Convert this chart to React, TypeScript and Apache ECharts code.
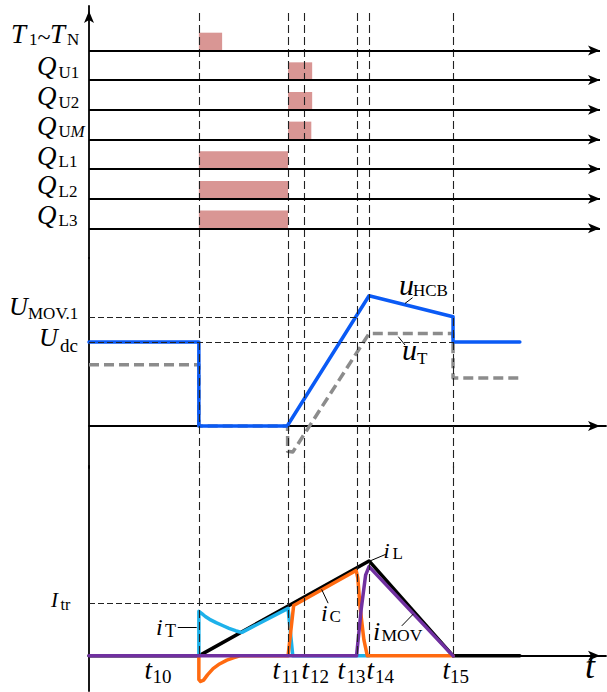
import React, { useEffect, useRef } from 'react';
import * as echarts from 'echarts';

// switching instants t10 ... t15 on the time axis
const tInstants = [25.5, 46.2, 50, 62.2, 65, 84.5];
const tSubscripts = ['10', '11', '12', '13', '14', '15'];

// gate signals, listed top to bottom, and the row each one sits on
const signalRows = [7, 6, 5, 4, 3, 2, 1];
// on-interval [start, end] of each gate signal
const signalPulses: number[][] = [
  [25.5, 30.9],
  [46.2, 51.8],
  [46.2, 51.8],
  [46.2, 51.6],
  [25.5, 46.2],
  [25.5, 46.2],
  [25.5, 46.2],
];
const pulseHeight = 0.6;

// voltages, per unit of Udc
const Udc = 1;
const UMOV1 = 1.3;
const uHCB = [[0, 1], [25.5, 1], [25.5, 0], [46, 0], [65, 1.55], [84.5, 1.3], [84.5, 1], [100, 1]];
const uT = [
  [0, 0.73], [25.5, 0.73], [25.5, 0], [46.1, 0], [46.1, -0.3], [47.3, -0.31],
  [65, 1.1], [84.5, 1.1], [84.5, 0.57], [100, 0.57],
];

// currents, per unit of the peak of iL
const Itr = 0.55;
const iL = [[0, 0], [25.5, 0], [65, 1], [84.5, 0], [100, 0]];
const iT = [
  [25.5, 0], [25.5, 0.47], [26.2, 0.445], [27, 0.415], [28, 0.385], [29.5, 0.35], [31, 0.32],
  [32.5, 0.29], [34, 0.265], [35, 0.252], [35.6, 0.25], [46.2, 0.5], [47.3, 0], [65, 0],
];
const iC = [
  [25.5, 0], [25.5, -0.25], [25.9, -0.27], [26.6, -0.255], [27.5, -0.2], [28.8, -0.135],
  [30.3, -0.085], [32, -0.045], [33.5, -0.02], [35, 0], [46.2, 0], [47.5, 0.53], [62, 0.9],
  [62.4, 0.82], [62.9, 0.52], [63.8, 0.17], [64.6, 0], [84.5, 0],
];
const iMOV = [[0, 0], [62.1, 0], [63.2, 0.5], [64.2, 0.85], [65, 0.94], [84.5, 0]];

// ---- layout ----
const LEFT = 89;
const WIDTH = 517;
const X_END = 120;
const PX_PER_X = WIDTH / X_END;
const ARROW: [number, number] = [7.5, 12];
const AXIS_W = 1.8;
const SERIF = 'Liberation Serif';

const COLORS = {
  pulse: '#D99694',
  blue: '#0A5AF5',
  grey: '#8C8C8C',
  black: '#000000',
  cyan: '#1DB1EA',
  orange: '#FF6A10',
  purple: '#7030A0',
  guide: '#222222',
};

const guideV = { color: COLORS.guide, width: 1.1, type: [8, 4] as number[] };
const guideH = { color: COLORS.guide, width: 1, type: [6, 3] as number[] };
const leader = { color: COLORS.black, width: 1, type: 'solid' as const };

function seg(a: number[], b: number[], lineStyle: any) {
  return [{ coord: a, lineStyle }, { coord: b }];
}

function xAxis(gridIndex: number, withLine: boolean) {
  return {
    type: 'value',
    gridIndex,
    min: 0,
    max: X_END,
    axisTick: { show: false },
    axisLabel: { show: false },
    splitLine: { show: false },
    axisLine: withLine
      ? {
          show: true,
          onZero: true,
          symbol: ['none', 'arrow'],
          symbolSize: ARROW,
          symbolOffset: [0, -ARROW[1] / 2],
          lineStyle: { color: COLORS.black, width: AXIS_W },
        }
      : { show: false },
  };
}

function yAxis(gridIndex: number, min: number, max: number, arrow: boolean) {
  return {
    type: 'value',
    gridIndex,
    min,
    max,
    axisTick: { show: false },
    axisLabel: { show: false },
    splitLine: { show: false },
    axisLine: {
      show: true,
      onZero: false,
      symbol: arrow ? ['none', 'arrow'] : 'none',
      symbolSize: ARROW,
      symbolOffset: [0, -ARROW[1] / 2 + 1],
      lineStyle: { color: COLORS.black, width: AXIS_W },
    },
  };
}

function holder(name: string, grid: number, extra: any) {
  return {
    name,
    type: 'line',
    xAxisIndex: grid,
    yAxisIndex: grid,
    data: [],
    silent: true,
    ...extra,
  };
}

function markLines(data: any[], symbol: any = 'none') {
  return {
    silent: true,
    symbol,
    symbolSize: ARROW,
    label: { show: false },
    emphasis: { disabled: true },
    data,
  };
}

function curve(name: string, grid: number, data: number[][], color: string, dashed?: number[]) {
  return {
    name,
    type: 'line',
    xAxisIndex: grid,
    yAxisIndex: grid,
    data,
    showSymbol: false,
    symbol: 'none',
    silent: true,
    clip: false,
    emphasis: { disabled: true },
    itemStyle: { color },
    lineStyle: { color, width: 3.5, join: 'round', cap: dashed ? 'butt' : 'round', type: dashed || 'solid' },
  };
}

function word(text: string, x: number, baseline: number, size: number, italic = false) {
  return {
    type: 'text',
    x,
    y: baseline - 0.34 * size,
    silent: true,
    style: {
      text,
      fill: '#000',
      fontFamily: SERIF,
      fontSize: size,
      fontStyle: italic ? 'italic' : 'normal',
      align: 'left',
      verticalAlign: 'middle',
    },
  };
}

function buildOption() {
  const rowEnd = X_END - ARROW[1] / 2 / PX_PER_X;

  const labels: any[] = [
    // gate signal names
    word('T', 11, 43, 27, true), word('1', 29, 45.5, 17), word('~', 37.5, 45, 24),
    word('T', 50, 43, 27, true), word('N', 67, 45.5, 17),
    word('Q', 37, 75.5, 27, true), word('U1', 58.5, 78.3, 17),
    word('Q', 37, 105.3, 27, true), word('U2', 58.5, 108, 17),
    word('Q', 37, 134.8, 27, true), word('U', 58.5, 137.4, 17), word('M', 70.5, 137.4, 17, true),
    word('Q', 37, 164.8, 27, true), word('L1', 58.5, 167.5, 17),
    word('Q', 37, 194.3, 27, true), word('L2', 58.5, 197, 17),
    word('Q', 37, 224, 27, true), word('L3', 58.5, 226.7, 17),
    // voltage levels and traces
    word('U', 9, 315.5, 26, true), word('MOV.1', 28, 319.5, 17),
    word('U', 39, 346.5, 26, true), word('dc', 60, 352, 19),
    word('u', 399, 295, 30, true), word('HCB', 413, 296, 17),
    word('u', 402, 360, 30, true), word('T', 417, 364.5, 17),
    // current levels and traces
    word('I', 51, 607, 21, true), word('tr', 60.5, 610, 16),
    word('i', 156, 635, 24, true), word('T', 165, 637, 18),
    word('i', 321, 621.5, 24, true), word('C', 329.5, 622.5, 17),
    word('i', 373, 640, 26, true), word('MOV', 381.5, 640.5, 17.5),
    word('i', 383.5, 558, 22, true), word('L', 392.5, 559.5, 17),
    // time axis
    word('t', 585, 678, 36, true),
  ];
  const tMainX = [144.5, 272.5, 301.5, 337.5, 366.5, 442.5];
  const tSubX = [152.5, 281.5, 310, 346.5, 375, 450];
  tSubscripts.forEach((s, i) => {
    labels.push(word('t', tMainX[i], 679, 27, true));
    labels.push(word(s, tSubX[i], 683, 19));
  });

  return {
    animation: false,
    backgroundColor: '#ffffff',
    grid: [
      { left: LEFT, width: WIDTH, top: 6, height: 252, containLabel: false, outerBoundsMode: 'none' },
      { left: LEFT, width: WIDTH, top: 258, height: 210, containLabel: false, outerBoundsMode: 'none' },
      { left: LEFT, width: WIDTH, top: 466, height: 225, containLabel: false, outerBoundsMode: 'none' },
    ],
    xAxis: [xAxis(0, false), xAxis(1, true), xAxis(2, true)],
    yAxis: [yAxis(0, 0, 8.5, true), yAxis(1, -0.5, 2, false), yAxis(2, -0.37, 2, false)],
    series: [
      // logic section
      holder('guidesA', 0, {
        markLine: markLines(tInstants.map((t) => seg([t, 8.26], [t, 0], guideV))),
      }),
      holder('rows', 0, {
        markLine: markLines(
          signalRows.map((r) => seg([0, r], [rowEnd, r], { color: COLORS.black, width: AXIS_W, type: 'solid' })),
          ['none', 'arrow'],
        ),
      }),
      holder('pulses', 0, {
        markArea: {
          silent: true,
          label: { show: false },
          emphasis: { disabled: true },
          itemStyle: { color: COLORS.pulse, opacity: 1 },
          data: signalPulses.map((p, i) => [
            { coord: [p[0], signalRows[i]] },
            { coord: [p[1], signalRows[i] + pulseHeight] },
          ]),
        },
      }),
      // voltage section
      holder('guidesB', 1, {
        markLine: markLines([
          ...tInstants.map((t) => seg([t, 2], [t, -0.5], guideV)),
          seg([0, UMOV1], [tInstants[3], UMOV1], guideH),
          seg([0, Udc], [tInstants[5], Udc], guideH),
          seg([73.35, 1.46], [75.1, 1.527], leader),
          seg([71.8, 1.063], [73.35, 0.964], leader),
        ]),
      }),
      curve('uT', 1, uT, COLORS.grey, [10, 5]),
      curve('uHCB', 1, uHCB, COLORS.blue),
      // current section
      holder('guidesC', 2, {
        markLine: markLines([
          ...tInstants.map((t) => seg([t, 2], [t, 0], guideV)),
          seg([0, Itr], [tInstants[1], Itr], guideH),
          seg([20.6, 0.298], [25, 0.298], leader),
          seg([54, 0.7], [55.5, 0.555], leader),
          seg([72.6, 0.316], [75.3, 0.442], leader),
          seg([65.4, 1.003], [68.9, 1.07], leader),
        ]),
      }),
      curve('iL', 2, iL, COLORS.black),
      curve('iT', 2, iT, COLORS.cyan),
      curve('iC', 2, iC, COLORS.orange),
      curve('iMOV', 2, iMOV, COLORS.purple),
    ],
    graphic: { elements: labels },
  };
}

export default function App() {
  const ref = useRef<HTMLDivElement>(null);
  useEffect(() => {
    document.body.style.margin = '0';
    const chart = echarts.init(ref.current!, null, { renderer: 'svg' });
    chart.setOption(buildOption() as any);
    return () => chart.dispose();
  }, []);
  return <div ref={ref} style={{ width: 607, height: 692, background: '#fff' }} />;
}
